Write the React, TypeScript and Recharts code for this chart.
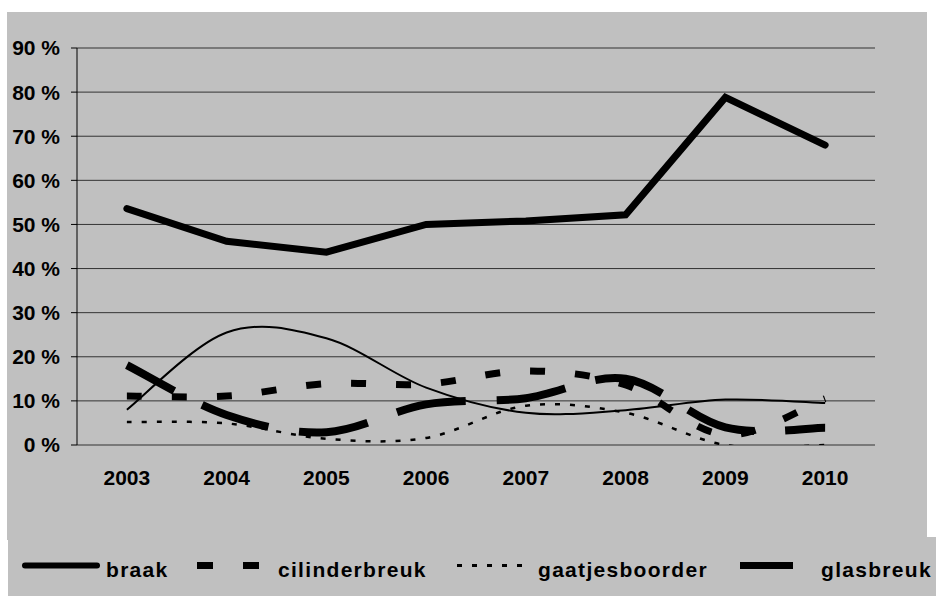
import { LineChart, Line, XAxis, YAxis, CartesianGrid } from 'recharts'

const years = ['2003', '2004', '2005', '2006', '2007', '2008', '2009', '2010']
const braak = [53.6, 46.2, 43.7, 50.0, 50.8, 52.2, 78.8, 68.0]
// thin smooth line: its legend entry falls outside the picture
const serie5 = [8.0, 25.5, 24.2, 13.0, 7.3, 7.9, 10.3, 9.5]
const cilinderbreuk = [11.1, 11.1, 13.9, 13.8, 16.8, 13.6, 2.3, 10.5]
const gaatjesboorder = [5.2, 4.9, 1.4, 1.6, 8.9, 7.3, 0, 0]
const glasbreuk = [18.1, 6.8, 2.9, 9.2, 10.6, 15.0, 4.0, 3.9]
const yTicks = [0, 10, 20, 30, 40, 50, 60, 70, 80, 90]

const data = years.map((year, i) => ({
  year,
  pos: i + 0.5,
  braak: braak[i],
  serie5: serie5[i],
  cilinderbreuk: cilinderbreuk[i],
  gaatjesboorder: gaatjesboorder[i],
  glasbreuk: glasbreuk[i],
}))

const GREY = '#c0c0c0'
const FONT = '"Liberation Sans", Arial, sans-serif'

// Excel-like smoothed line (Catmull-Rom through the points)
const excelSmooth = (context: any) => {
  let pts: number[][] = []
  return {
    areaStart() {},
    areaEnd() {},
    lineStart() {
      pts = []
    },
    point(x: number, y: number) {
      pts.push([+x, +y])
    },
    lineEnd() {
      const n = pts.length
      if (!n) return
      context.moveTo(pts[0][0], pts[0][1])
      for (let i = 0; i < n - 1; i++) {
        const p0 = pts[Math.max(i - 1, 0)]
        const p1 = pts[i]
        const p2 = pts[i + 1]
        const p3 = pts[Math.min(i + 2, n - 1)]
        context.bezierCurveTo(
          p1[0] + (p2[0] - p0[0]) / 6,
          p1[1] + (p2[1] - p0[1]) / 6,
          p2[0] - (p3[0] - p1[0]) / 6,
          p2[1] - (p3[1] - p1[1]) / 6,
          p2[0],
          p2[1]
        )
      }
    },
  }
}

const tickStyle = { fill: '#000', fontSize: 21, fontWeight: 'bold', fontFamily: FONT }

function Legend() {
  return (
    <div style={{ position: 'absolute', left: 8, top: 537, width: 928, height: 59, background: GREY, overflow: 'hidden' }}>
      <svg width={928} height={59} style={{ display: 'block' }}>
        <line x1={17} x2={89} y1={28.5} y2={28.5} stroke="#000" strokeWidth={6} strokeLinecap="round" />
        <line x1={189} x2={251} y1={28.5} y2={28.5} stroke="#000" strokeWidth={7} strokeDasharray="16 30" />
        <line x1={449} x2={516} y1={28.5} y2={28.5} stroke="#000" strokeWidth={3} strokeDasharray="5 10" />
        <line x1={732} x2={785} y1={28.5} y2={28.5} stroke="#000" strokeWidth={7} />
        <g fontFamily={FONT} fontWeight="bold" fontSize={21} letterSpacing={1.3} fill="#000">
          <text x={98} y={40}>braak</text>
          <text x={270} y={40}>cilinderbreuk</text>
          <text x={530} y={40}>gaatjesboorder</text>
          <text x={813} y={40}>glasbreuk</text>
        </g>
      </svg>
    </div>
  )
}

export default function App() {
  return (
    <div style={{ position: 'absolute', left: 0, top: 0, width: 936, height: 596, background: '#fff', overflow: 'hidden' }}>
      <div style={{ position: 'absolute', left: 7, top: 12, width: 920, height: 528, background: GREY }} />
      <div style={{ position: 'absolute', left: 0, top: 0 }}>
        <LineChart width={936} height={540} data={data} margin={{ top: 48, right: 61, left: 0, bottom: 55 }}>
          <CartesianGrid vertical={false} stroke="#333" />
          <XAxis
            xAxisId="bounds"
            type="number"
            dataKey="pos"
            domain={[0, 8]}
            ticks={[0, 1, 2, 3, 4, 5, 6, 7, 8]}
            tick={false}
            tickSize={6}
            height={0}
            stroke="#000"
          />
          <XAxis
            xAxisId="labels"
            type="number"
            dataKey="pos"
            domain={[0, 8]}
            ticks={data.map((d) => d.pos)}
            tickFormatter={(v: number) => years[Math.floor(v)]}
            axisLine={false}
            tickLine={false}
            tickSize={0}
            tickMargin={25}
            height={40}
            tick={tickStyle}
          />
          <YAxis
            domain={[0, 90]}
            ticks={yTicks}
            allowDataOverflow
            tickFormatter={(v: number) => `${v} %`}
            width={77}
            tickSize={6}
            tickMargin={11}
            stroke="#000"
            tick={tickStyle}
          />
          <Line xAxisId="bounds" dataKey="braak" type="linear" stroke="#000" strokeWidth={7} strokeLinecap="round" dot={false} activeDot={false} isAnimationActive={false} />
          <Line xAxisId="bounds" dataKey="serie5" type={excelSmooth as any} stroke="#000" strokeWidth={2} dot={false} activeDot={false} isAnimationActive={false} />
          <Line xAxisId="bounds" dataKey="cilinderbreuk" type={excelSmooth as any} stroke="#000" strokeWidth={7} strokeDasharray="15 30" dot={false} activeDot={false} isAnimationActive={false} />
          <Line xAxisId="bounds" dataKey="gaatjesboorder" type={excelSmooth as any} stroke="#000" strokeWidth={2.5} strokeDasharray="5 10" dot={false} activeDot={false} isAnimationActive={false} />
          <Line xAxisId="bounds" dataKey="glasbreuk" type={excelSmooth as any} stroke="#000" strokeWidth={8} strokeDasharray="70 31" strokeDashoffset={16} dot={false} activeDot={false} isAnimationActive={false} />
        </LineChart>
      </div>
      <Legend />
    </div>
  )
}
